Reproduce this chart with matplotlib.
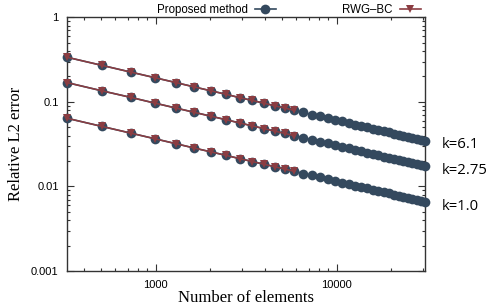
import matplotlib
matplotlib.use("Agg")
import matplotlib.pyplot as plt
from matplotlib.ticker import LogLocator, FixedLocator, NullFormatter, FixedFormatter
from matplotlib.lines import Line2D

# ---- data ----
n_elements = [324, 506, 729, 992, 1296, 1640, 2025, 2450, 2916, 3422, 3969, 4556,
              5184, 5852, 6561, 7310, 8100, 8930, 9801, 10712, 11664, 12656, 13689,
              14762, 15876, 17030, 18225, 19460, 20736, 22052, 23409, 24806, 26244,
              27722, 29241, 30800]

prop_k61 = [0.337, 0.270, 0.225, 0.193, 0.169, 0.150, 0.135, 0.123, 0.112, 0.104,
            0.0963, 0.0899, 0.0843, 0.0793, 0.0749, 0.0709, 0.0674, 0.0642, 0.0613,
            0.0586, 0.0562, 0.0539, 0.0518, 0.0499, 0.0481, 0.0465, 0.0449, 0.0435,
            0.0421, 0.0408, 0.0396, 0.0385, 0.0374, 0.0364, 0.0355, 0.0348]
prop_k275 = [0.169, 0.135, 0.113, 0.0966, 0.0845, 0.0751, 0.0676, 0.0615, 0.0563,
             0.0520, 0.0483, 0.0451, 0.0423, 0.0398, 0.0376, 0.0356, 0.0338, 0.0322,
             0.0307, 0.0294, 0.0282, 0.0270, 0.0260, 0.0250, 0.0241, 0.0233, 0.0225,
             0.0218, 0.0211, 0.0205, 0.0199, 0.0193, 0.0188, 0.0183, 0.0178, 0.0173]
prop_k10 = [0.0640, 0.0512, 0.0427, 0.0366, 0.0320, 0.0284, 0.0256, 0.0233, 0.0213,
            0.0197, 0.0183, 0.0171, 0.0160, 0.0151, 0.0142, 0.0135, 0.0128, 0.0122,
            0.0116, 0.0111, 0.0107, 0.0102, 0.00985, 0.00948, 0.00914, 0.00883,
            0.00853, 0.00826, 0.00800, 0.00776, 0.00753, 0.00731, 0.00711, 0.00692,
            0.00674, 0.00656]

rwg_elements = [324, 506, 729, 992, 1296, 1640, 2025, 2450, 2916, 3422, 3969, 4556,
                5184, 5852]
rwg_k61 = [0.337, 0.270, 0.225, 0.193, 0.169, 0.150, 0.135, 0.123, 0.112, 0.104,
           0.0963, 0.0899, 0.0843, 0.0793]
rwg_k275 = [0.169, 0.135, 0.113, 0.0966, 0.0845, 0.0751, 0.0676, 0.0615, 0.0563,
            0.0520, 0.0483, 0.0451, 0.0423, 0.0398]
rwg_k10 = [0.0640, 0.0512, 0.0427, 0.0366, 0.0320, 0.0284, 0.0256, 0.0233, 0.0213,
           0.0197, 0.0183, 0.0171, 0.0160, 0.0151]

k_labels = ["k=6.1", "k=2.75", "k=1.0"]
y_ticks = [0.001, 0.01, 0.1, 1]
y_ticklabels = ["0.001", "0.01", "0.1", "1"]
x_ticks = [1000, 10000]
x_ticklabels = ["1000", "10000"]

BLUE = "#34495e"
RED = "#8b3d42"

fig = plt.figure(figsize=(4.91, 3.07), dpi=100)
ax = fig.add_axes([0.1365, 0.1173, 0.7291, 0.8263])

for ys in (prop_k61, prop_k275, prop_k10):
    ax.plot(n_elements, ys, color=BLUE, lw=1.2, marker="o", ms=7.0,
            mec=BLUE, mfc=BLUE, mew=0, clip_on=False, zorder=3)
for ys in (rwg_k61, rwg_k275, rwg_k10):
    ax.plot(rwg_elements, ys, color=RED, lw=1.1, marker="v", ms=6.4,
            mec=RED, mfc=RED, mew=0, clip_on=False, zorder=4)

ax.set_xscale("log")
ax.set_yscale("log")
ax.set_xlim(324, 30800)
ax.set_ylim(0.001, 1)

ax.xaxis.set_major_locator(FixedLocator(x_ticks))
ax.xaxis.set_major_formatter(FixedFormatter(x_ticklabels))
ax.xaxis.set_minor_locator(LogLocator(base=10, subs=range(2, 10), numticks=20))
ax.xaxis.set_minor_formatter(NullFormatter())
ax.yaxis.set_major_locator(FixedLocator(y_ticks))
ax.yaxis.set_major_formatter(FixedFormatter(y_ticklabels))
ax.yaxis.set_minor_locator(LogLocator(base=10, subs=range(2, 10), numticks=20))
ax.yaxis.set_minor_formatter(NullFormatter())

ax.tick_params(which="both", direction="in", top=True, right=True, color="#333333",
               labelsize=8, labelcolor="black", width=0.8)
ax.tick_params(which="major", length=5)
ax.tick_params(which="minor", length=2.5)
for lbl in ax.get_xticklabels() + ax.get_yticklabels():
    lbl.set_family("Liberation Sans")
ax.tick_params(axis="x", pad=6.5)
ax.tick_params(axis="y", pad=6)
for s in ax.spines.values():
    s.set_color("#333333")
    s.set_linewidth(1.0)

ax.set_xlabel("Number of elements", family="Liberation Serif", fontsize=12, labelpad=0)
ax.set_ylabel("Relative L2 error", family="Liberation Serif", fontsize=12, labelpad=5)

for lab, ys in zip(k_labels, (prop_k61, prop_k275, prop_k10)):
    ax.annotate(lab, xy=(n_elements[-1], ys[-1]), xytext=(12, -3),
                textcoords="offset points", ha="left", va="center",
                family="Open Sans", fontsize=10.7, annotation_clip=False)

h1 = Line2D([], [], color=BLUE, lw=1.2, marker="o", ms=7.0, mew=0)
h2 = Line2D([], [], color=RED, lw=1.2, marker="v", ms=6.4, mew=0)
leg = fig.legend([h1, h2], ["Proposed method", "RWG\u2013BC"], loc="upper center",
                 bbox_to_anchor=(0.588, 1.02), ncol=2, frameon=False,
                 markerfirst=False, handlelength=1.8, columnspacing=5.8,
                 handletextpad=0.6, prop={"family": "Liberation Sans", "size": 8.3})

fig.savefig("out.png", dpi=100)
